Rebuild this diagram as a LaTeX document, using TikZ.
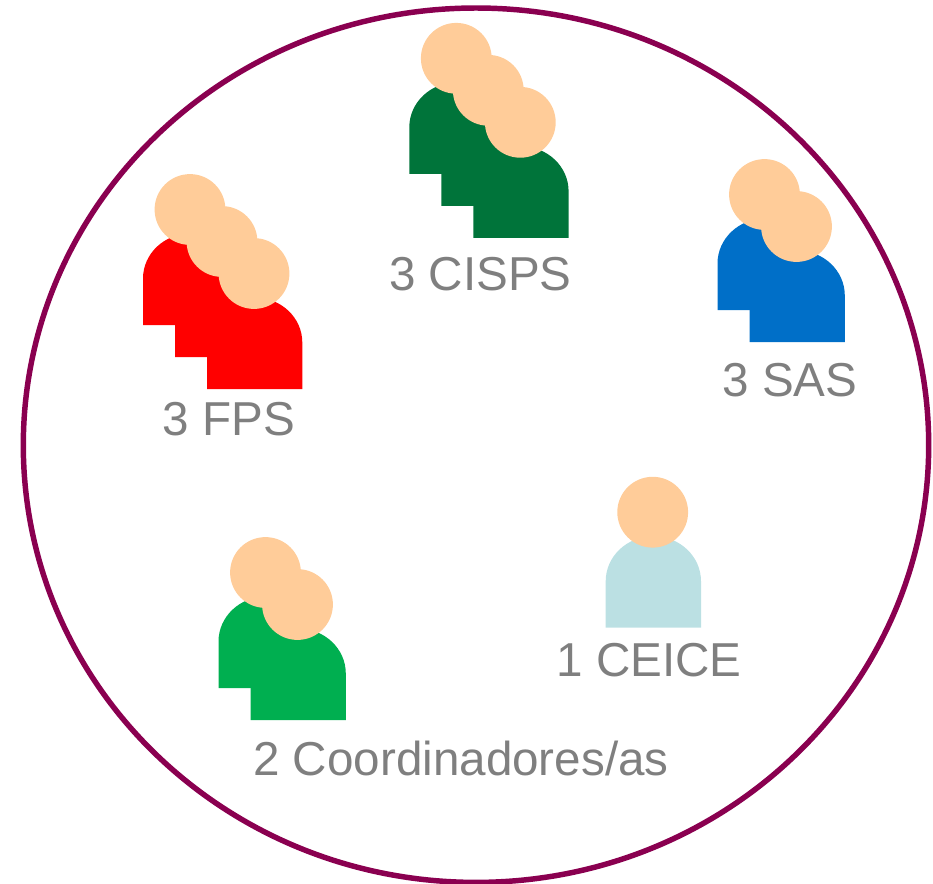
\documentclass[tikz,border=0pt]{standalone}
\usepackage{fontspec}
\setmainfont{Liberation Sans}
\definecolor{ringc}{HTML}{8A0050}
\definecolor{headc}{HTML}{FFCC99}
\definecolor{labelc}{HTML}{7F7F7F}
\definecolor{cispsc}{HTML}{00743A}
\definecolor{fpsc}{HTML}{FF0000}
\definecolor{sasc}{HTML}{006FC8}
\definecolor{coordc}{HTML}{00AF50}
\definecolor{ceicec}{HTML}{BBE0E3}
\newcommand{\tikzpicturebodycolor}{black}
\tikzset{
  person/.pic={
    \fill[fill=\tikzpicturebodycolor] (-47,115.5) -- (-47,69) arc[start angle=180,end angle=360,x radius=47.65,y radius=45] -- (48.3,115.5) -- cycle;
    \fill[headc] (0,0) circle[radius=35.4];
  },
  lab/.style={text=labelc,font=\fontsize{35.7}{40}\selectfont,inner sep=0pt,anchor=center}
}
\newcommand{\personat}[3]{\renewcommand{\tikzpicturebodycolor}{#3}\pic at (#1,#2) {person};}
\begin{document}
\begin{tikzpicture}[x=0.75pt,y=-0.75pt]
\useasboundingbox (0,0) rectangle (933,883);
\draw[ringc,line width=4.1pt] (476,445.2) ellipse[x radius=452.7,y radius=437.2];
% CISPS
\personat{456.3}{58.3}{cispsc}
\personat{488.3}{90.3}{cispsc}
\personat{520.3}{122.3}{cispsc}
% FPS
\personat{190}{209.5}{fpsc}
\personat{222}{241.5}{fpsc}
\personat{254}{273.5}{fpsc}
% SAS
\personat{764.5}{194.5}{sasc}
\personat{796.5}{226.5}{sasc}
% Coordinadores
\personat{265.5}{572.5}{coordc}
\personat{297.5}{604.5}{coordc}
% CEICE
\personat{652.7}{512.2}{ceicec}
\node[lab] (cisps) at (480.5,274) {3 CISPS};
\node[lab] (fps) at (229,419) {3 FPS};
\node[lab] (sas) at (790,380) {3 SAS};
\node[lab] (ceice) at (649,660) {1 CEICE};
\node[lab] (coord) at (461,758) {2 Coordinadores/as};
\end{tikzpicture}
\end{document}
